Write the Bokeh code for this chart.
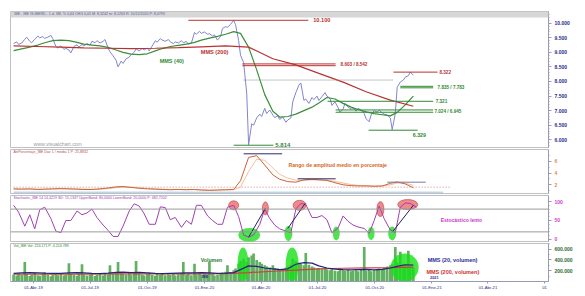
import pandas as pd
from bokeh.plotting import figure
from bokeh.layouts import column
from bokeh.models import Range1d, FixedTicker, NumeralTickFormatter, Label, Span, BoxAnnotation
from bokeh.embed import file_html
from bokeh.resources import INLINE

FONT = "Liberation Sans"
START = "2019-02-28"

# ---------------- data ----------------
# closing prices, one every 3 sessions
price = [9.30, 9.36, 9.27, 9.32, 9.45, 9.52, 9.38, 9.33, 9.45, 9.56,
         9.50, 9.54, 9.48, 9.52, 9.58, 9.47, 9.20, 9.15, 9.22, 9.10,
         9.14, 9.08, 8.98, 9.20, 9.26, 9.18, 9.27, 9.22, 9.30, 9.25,
         9.38, 9.33, 9.40, 9.32, 9.38, 9.44, 9.15, 9.02, 8.88, 8.72,
         8.50, 8.70, 8.62, 8.78, 8.84, 8.92, 9.00, 9.12, 9.05, 9.13,
         9.08, 9.15, 9.05, 9.22, 9.40, 9.35, 9.47, 9.42, 9.38, 9.44,
         9.36, 9.30, 9.36, 9.32, 9.40, 9.33, 9.37, 9.28, 9.32, 9.68,
         9.62, 9.72, 9.65, 9.70, 9.62, 9.64, 9.56, 9.60, 9.42, 9.55,
         9.82, 9.88, 9.86, 9.96, 10.10, 9.95, 9.40, 8.90, 8.65, 7.60,
         5.83, 6.55, 6.50, 6.75, 6.88, 6.80, 7.08, 6.90, 7.02, 6.85,
         6.76, 6.82, 6.70, 6.78, 6.60, 6.68, 6.75, 7.30, 7.62, 7.88,
         7.95, 7.35, 7.40, 7.25, 7.45, 7.38, 7.50, 7.35, 7.48, 7.62,
         7.50, 7.42, 7.18, 7.30, 7.10, 6.95, 7.05, 7.25, 7.12, 7.05,
         7.10, 6.98, 7.08, 7.02, 6.90, 6.72, 6.62, 6.85, 7.00, 6.95,
         7.02, 6.92, 6.88, 6.85, 6.75, 6.35, 6.90, 7.80, 7.98, 8.05,
         8.15, 8.20, 8.32, 8.22]
# MMS(40), one every 9 sessions
mms40 = [9.06, 9.12, 9.18, 9.25, 9.33, 9.40, 9.42, 9.40, 9.34, 9.28,
         9.25, 9.22, 9.17, 9.08, 9.00, 8.94, 8.92, 8.95, 9.05, 9.13,
         9.20, 9.24, 9.28, 9.34, 9.42, 9.49, 9.55, 9.62, 9.71, 9.65,
         9.18, 8.40, 7.55, 6.98, 6.78, 6.80, 6.88, 7.00, 7.12, 7.26,
         7.45, 7.40, 7.25, 7.12, 7.04, 6.96, 6.90, 6.86, 6.82, 6.94,
         7.20, 7.50]
# MMS(200), one every 27 sessions
mms200 = [9.22, 9.20, 9.18, 9.15, 9.14, 9.13, 9.14, 9.16, 9.19, 9.22,
          9.18, 8.78, 8.57, 8.28, 7.98, 7.65, 7.36, 7.15]

# price levels
level_vals = [10.100, 8.603, 8.542, 8.322, 7.835, 7.783, 7.321, 7.024, 6.945, 6.329, 5.814]
level_from = ["2019-12-06", "2020-03-02", "2020-03-02", "2020-10-31", "2020-11-11", "2020-11-11",
              "2020-07-17", "2020-07-30", "2020-07-30", "2020-09-21", "2020-02-17"]
level_to = ["2020-06-16", "2020-07-30", "2020-07-30", "2021-01-10", "2021-01-03", "2021-01-03",
            "2021-01-03", "2021-01-03", "2021-01-03", "2020-12-09", "2020-04-21"]
resist_val = 8.05
resist_from, resist_to = "2020-03-04", "2020-10-31"

level_labels = ["10.100", "8.603 / 8.542", "8.322", "7.835 / 7.783", "7.321", "7.024 / 6.945", "6.329", "5.814"]
level_label_x = ["2020-06-24", "2020-08-07", "2021-01-13", "2021-01-10", "2021-01-07", "2021-01-05", "2020-12-01", "2020-04-24"]
level_label_y = [10.10, 8.572, 8.322, 7.809, 7.321, 6.985, 6.16, 5.83]

# ATR % (average true range in percent), one every 9 sessions
atr = [1.30, 1.25, 1.30, 1.20, 1.25, 1.30, 1.35, 1.30, 1.25, 1.20,
       1.20, 1.30, 1.45, 1.65, 1.70, 1.55, 1.40, 1.30, 1.25, 1.20,
       1.15, 1.20, 1.15, 1.20, 1.10, 1.05, 1.10, 1.15, 1.20, 2.70,
       6.70, 7.00, 5.40, 3.70, 2.95, 2.55, 2.45, 2.85, 2.95, 2.85,
       2.75, 2.35, 2.00, 1.85, 1.80, 1.80, 1.75, 1.80, 2.25, 2.50,
       2.15, 1.50]
atr_avg = [1.30, 1.28, 1.27, 1.25, 1.25, 1.27, 1.30, 1.30, 1.28, 1.25,
           1.22, 1.25, 1.35, 1.50, 1.60, 1.60, 1.50, 1.40, 1.30, 1.25,
           1.20, 1.20, 1.18, 1.18, 1.15, 1.10, 1.10, 1.12, 1.15, 1.60,
           4.30, 6.40, 6.20, 4.90, 3.80, 3.15, 2.80, 2.75, 2.85, 2.85,
           2.80, 2.60, 2.30, 2.05, 1.90, 1.85, 1.80, 1.80, 2.00, 2.30,
           2.30, 1.90]
atr_marks = [7.32, 3.03, 2.45]
atr_marks_from = ["2020-03-04", "2020-05-30", "2020-10-21"]
atr_marks_to = ["2020-05-05", "2020-07-30", "2020-12-22"]
atr_ref_dotted = 1.59
atr_ref_solid = 0.73
atr_ref_from = "2019-02-28"
atr_ref_to = ["2021-01-31", "2021-01-19"]

# slow stochastic, one every 6 sessions
stoch = [90, 72, 35, 65, 28, 78, 85, 55, 22, 18,
         50, 50, 75, 65, 70, 80, 58, 38, 24, 8,
         8, 35, 75, 94, 88, 68, 40, 40, 86, 84,
         52, 58, 32, 50, 40, 90, 90, 62, 50, 40,
         40, 85, 90, 60, 12, 6, 12, 40, 80, 55,
         38, 28, 22, 18, 80, 95, 92, 58, 58, 63,
         52, 18, 30, 62, 48, 38, 33, 29, 16, 50,
         88, 55, 25, 18, 85, 96, 95, 85]
stoch_bands = [80, 20]
hi_red_x = ["2020-02-17", "2020-04-08", "2020-06-02", "2020-10-10", "2020-11-23"]
hi_red_y = [90, 82, 90, 80, 92]
hi_green_x = ["2020-03-13", "2020-05-15", "2020-07-31", "2020-09-25", "2020-10-29"]
hi_green_y = [12, 16, 16, 16, 16]
conn_x0 = ["2020-03-12", "2020-05-14", "2020-10-29"]
conn_y0 = [6, 29, 19]
conn_x1 = ["2020-04-08", "2020-06-11", "2020-12-02"]
conn_y1 = [82, 95, 90]

# volume (thousands), one every 3 sessions
volume = [130, 110, 150, 120, 360, 140, 100, 125, 160, 115,
          105, 140, 170, 120, 95, 130, 150, 115, 135, 110,
          125, 340, 140, 120, 105, 150, 320, 130, 110, 125,
          140, 100, 120, 135, 110, 150, 130, 300, 145, 170,
          360, 160, 140, 130, 175, 120, 145, 380, 150, 125,
          110, 135, 160, 120, 105, 140, 125, 150, 115, 130,
          120, 145, 110, 135, 150, 360, 125, 140, 115, 330,
          130, 150, 120, 145, 135, 360, 140, 110, 125, 150,
          165, 180, 300, 170, 210, 240, 330, 380, 420, 360,
          450, 480, 520, 400, 360, 330, 300, 280, 260, 300,
          250, 240, 220, 230, 260, 280, 310, 420, 380, 350,
          330, 300, 530, 310, 280, 260, 240, 250, 230, 260,
          220, 210, 230, 200, 190, 240, 210, 200, 220, 190,
          200, 210, 190, 220, 640, 200, 230, 190, 210, 220,
          240, 230, 250, 280, 300, 320, 640, 350, 550, 330,
          300, 570, 280, 260]
vol_mms20 = [150, 160, 165, 160, 155, 150, 150, 160, 165, 160,
             150, 145, 155, 170, 175, 165, 170, 160, 150, 145,
             150, 155, 160, 160, 165, 160, 150, 155, 165, 220,
             290, 280, 250, 235, 220, 235, 320, 350, 340, 290,
             250, 230, 220, 215, 220, 225, 215, 225, 250, 280,
             310, 305]
vol_mms200 = [135, 135, 137, 138, 140, 141, 142, 142, 143, 145,
              165, 190, 212, 232, 245, 252, 258, 265]
vol_hi_x = ["2020-03-03", "2020-05-21", "2020-11-18"]
vol_hi_y = [315, 315, 259]

tick_dates = ["2019-04-01", "2019-07-01", "2019-10-01", "2020-01-01", "2020-04-01",
              "2020-07-01", "2020-10-01", "2021-01-01", "2021-04-01", "2021-07-01"]
tick_labels = ["01-Abr-19", "01-Jul-19", "01-Oct-19", "01-Ene-20", "01-Abr-20",
               "01-Jul-20", "01-Oct-20", "01-Ene-21", "01-Abr-21", "01"]

# ---------------- helpers ----------------
def ms(d):
    return pd.Timestamp(d).value / 1e6

def sessions(n, step):
    return pd.date_range(START, periods=n, freq=pd.offsets.BDay(step))

def dts(lst):
    return [pd.Timestamp(d) for d in lst]

x_range = Range1d(start=ms("2019-02-23"), end=ms("2021-07-07 10:00"))

def make_fig(height, y0, y1, top, bottom, xaxis=False):
    p = figure(width=585, height=height, x_range=x_range, y_range=Range1d(y0, y1),
               x_axis_type="datetime", x_axis_location="below" if xaxis else None,
               y_axis_location="right", output_backend="svg", toolbar_location=None,
               min_border_left=10, min_border_right=37, min_border_top=top, min_border_bottom=bottom)
    p.grid.visible = False
    p.outline_line_color = "#c0c0c0"
    p.background_fill_color = "white"
    p.border_fill_color = "white"
    return p

def style_yaxis(p, ticks, minor, color, fmt=None, overrides=None):
    ax = p.yaxis[0]
    ax.ticker = FixedTicker(ticks=ticks, minor_ticks=minor)
    if fmt:
        ax.formatter = NumeralTickFormatter(format=fmt)
    if overrides:
        ax.major_label_overrides = overrides
    ax.major_label_text_color = color
    ax.major_label_text_font = FONT
    ax.major_label_text_font_size = "5px"
    ax.major_label_text_font_style = "bold"
    ax.major_label_standoff = 3
    ax.major_tick_in = 0
    ax.major_tick_out = 3
    ax.minor_tick_in = 0
    ax.minor_tick_out = 1
    ax.axis_line_color = "#9a9ab8"
    ax.major_tick_line_color = "#9a9ab8"
    ax.minor_tick_line_color = "#9a9ab8"

def label(p, x, y, text, color, size="5px", style="bold"):
    p.add_layout(Label(x=ms(x), y=y, text=text, text_color=color, text_font=FONT,
                       text_font_size=size, text_font_style=style, text_baseline="middle",
                       text_align="left"))

RED = "#b8312f"
GREEN = "#2f8a32"
NAVY = "#2b2b8c"

# ---------------- price panel ----------------
p1 = make_fig(148, 5.736, 10.401, 11, 1)
style_yaxis(p1, [6.0, 6.5, 7.0, 7.5, 8.0, 8.5, 9.0, 9.5, 10.0],
            [5.8 + 0.1 * i for i in range(46)], NAVY, fmt="0.000")
p1.add_layout(BoxAnnotation(bottom=10.196, fill_color="#d6d6d6", fill_alpha=1.0, line_color=None))
label(p1, "2019-03-01", 10.30, "IBE - IBE IS-IBERD - 1 d. 3M. %  0,64  CHG  0,05  M: 8,3242  m: 8,1263  R: 10/12/2020  P: 8,0793",
      "#5a5aa0", size="3.6px", style="normal")

p1.line(sessions(len(price), 3), price, color="#8185cf", line_width=1)
p1.line(sessions(len(mms40), 9), mms40, color="#3a8f3a", line_width=1.2)
p1.line(sessions(len(mms200), 27), mms200, color="#b83232", line_width=1.2)

lv_colors = [RED] * 4 + [GREEN] * 7
p1.segment(x0=dts(level_from), y0=level_vals, x1=dts(level_to), y1=level_vals,
           color=lv_colors, line_width=1)
p1.segment(x0=[pd.Timestamp(resist_from)], y0=[resist_val], x1=[pd.Timestamp(resist_to)], y1=[resist_val],
           color="#8a8a8a", line_width=1, line_dash="1 1")

lab_colors = [RED] * 3 + [GREEN] * 5
lab_sizes = ["5.6px", "4.6px", "4.6px", "4.6px", "4.6px", "4.6px", "5.3px", "6px"]
for t, x, y, c, s in zip(level_labels, level_label_x, level_label_y, lab_colors, lab_sizes):
    label(p1, x, y, t, c, size=s)
label(p1, "2019-10-21", 8.71, "MMS (40)", GREEN, size="5.5px")
label(p1, "2019-12-26", 9.00, "MMS (200)", RED, size="5.6px")
label(p1, "2019-04-01", 5.84, "www.visualchart.com", "#9a9aa8", size="5.2px", style="normal")

# ---------------- ATR panel ----------------
p2 = make_fig(46, 0.506, 8.06, 1, 1)
style_yaxis(p2, [2, 4, 6], [1, 3, 5, 7], "#e08a3c")
p2.segment(x0=[pd.Timestamp(atr_ref_from)], y0=[atr_ref_dotted], x1=[pd.Timestamp(atr_ref_to[0])],
           y1=[atr_ref_dotted], color="#d98080", line_width=1, line_dash="1 2")
p2.segment(x0=[pd.Timestamp(atr_ref_from)], y0=[atr_ref_solid], x1=[pd.Timestamp(atr_ref_to[1])],
           y1=[atr_ref_solid], color="#9cc4e4", line_width=1)
p2.line(sessions(len(atr_avg), 9), atr_avg, color="#f0b080", line_width=0.8)
p2.line(sessions(len(atr), 9), atr, color="#c8643c", line_width=1)
p2.segment(x0=dts(atr_marks_from), y0=atr_marks, x1=dts(atr_marks_to), y1=atr_marks,
           color=["#2b2b6c", "#2b2b6c", "#7a7a9a"], line_width=1)
label(p2, "2020-05-15", 5.48, "Rango de amplitud medio en porcentaje", "#d2691e", size="5.2px")
label(p2, "2019-02-28", 7.6, "AtrPorcentaje_IBE  Diar 1 / media 1   P: 25,8832", "#b05050", size="3.6px", style="normal")

# ---------------- stochastic panel ----------------
p3 = make_fig(48, -5.3, 115.8, 1, 1)
style_yaxis(p3, [0, 50, 100], [10, 20, 30, 40, 60, 70, 80, 90], "#cc44cc")
for b in stoch_bands:
    p3.add_layout(Span(location=b, dimension="width", line_color="#9a9a9a", line_width=1))
p3.ellipse(x=dts(hi_red_x), y=hi_red_y, width=[10, 6, 13, 7, 20], height=[9, 13, 10, 15, 10],
           width_units="screen", height_units="screen", fill_color="#e85858", fill_alpha=0.7,
           line_color="#c04040", line_alpha=0.6)
p3.ellipse(x=dts(hi_green_x), y=hi_green_y, width=[22, 8, 7, 7, 8], height=[14, 15, 14, 13, 14],
           width_units="screen", height_units="screen", fill_color="#22dd22", fill_alpha=0.8,
           line_color=None)
p3.line(sessions(len(stoch), 6), stoch, color="#a040b0", line_width=1)
p3.segment(x0=dts(conn_x0), y0=conn_y0, x1=dts(conn_x1), y1=conn_y1, color="#23235f", line_width=1)
label(p3, "2021-01-15", 50, "Estocástico lento", "#cc33cc", size="5px")
label(p3, "2019-02-28", 110, "Stochastic_IBE 14 14,4219  SD: 15,1337  UpperBand: 80,0000  LowerBand: 20,0000  P: 482,7202",
      "#a040b0", size="3.6px", style="normal")

# ---------------- volume panel ----------------
p4 = make_fig(54, 0, 703700, 1, 15, xaxis=True)
style_yaxis(p4, [200000, 400000, 600000], [100000, 300000, 500000, 700000], "#2e6b2e",
            overrides={200000: "200.000", 400000: "400.000", 600000: "600.000"})
p4.vbar(x=sessions(len(volume), 3), top=[v * 1000 for v in volume], width=4.3 * 86400000,
        color="#62b062", line_color=None)
p4.ellipse(x=dts(vol_hi_x), y=[v * 1000 for v in vol_hi_y], width=[11, 13, 28], height=[34, 34, 28],
           width_units="screen", height_units="screen", fill_color="#18e018", fill_alpha=0.8,
           line_color=None)
p4.line(sessions(len(vol_mms200), 27), [v * 1000 for v in vol_mms200], color="#d04040", line_width=1.2)
p4.line(sessions(len(vol_mms20), 9), [v * 1000 for v in vol_mms20], color="#23237a", line_width=1.2)
label(p4, "2019-12-26", 389000, "Volumen", "#2e7d32", size="5.2px")
label(p4, "2020-12-25", 389000, "MMS (20, volumen)", "#2b2b9c", size="5.5px")
label(p4, "2020-12-23", 185000, "MMS (200, volumen)", "#d03030", size="5.5px")
label(p4, "2020-12-29", 80000, "2021", "#2b2b8c", size="3.8px")
label(p4, "2019-12-28", 80000, "IBE", "#2b2b8c", size="3.8px")
label(p4, "2019-02-28", 660000, "Vol_IBE  Vol: 253.171   P: 4.214.789", "#2e7d32", size="3.6px", style="normal")

xa = p4.xaxis[0]
xa.ticker = FixedTicker(ticks=[ms(d) for d in tick_dates])
xa.major_label_overrides = {ms(d): t for d, t in zip(tick_dates, tick_labels)}
xa.major_label_text_align = "left"
xa.major_label_text_font = FONT
xa.major_label_text_font_size = "4.2px"
xa.major_label_text_color = NAVY
xa.major_label_standoff = 1
xa.major_tick_in = 0
xa.major_tick_out = 2
xa.minor_tick_out = 0
xa.minor_tick_in = 0
xa.axis_line_color = "#9a9ab8"
xa.major_tick_line_color = "#9a9ab8"

layout = column(p1, p2, p3, p4, spacing=0)
open("out.html", "w").write(file_html(layout, INLINE))
